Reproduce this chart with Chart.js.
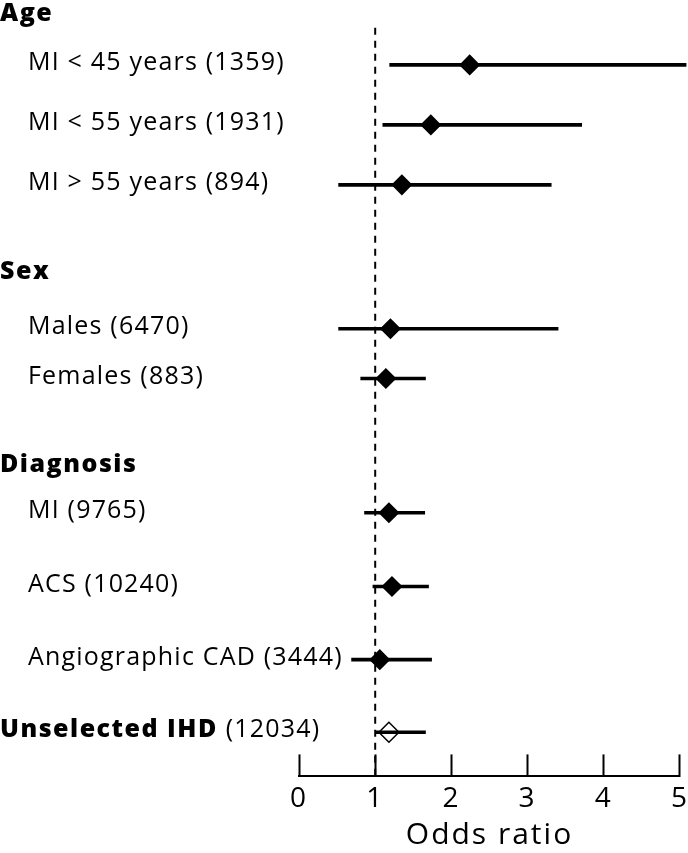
<!DOCTYPE html>
<html>
<head>
<meta charset="utf-8">
<script src="https://cdn.jsdelivr.net/npm/chart.js@4/dist/chart.umd.min.js"></script>
<style>
  html, body { margin: 0; padding: 0; background: #fff; }
  #wrap { width: 688px; height: 853px; }
</style>
</head>
<body>
<div id="wrap"><canvas id="forest"></canvas></div>
<script>
// group headings and where they sit (row units, top = 0)
const groups = ['Age', 'Sex', 'Diagnosis'];
const groupRows = [0, 4.3, 7.52];

// subgroups (n), last one is the pooled estimate
const labels = [
    'MI < 45 years (1359)',
    'MI < 55 years (1931)',
    'MI > 55 years (894)',
    'Males (6470)',
    'Females (883)',
    'MI (9765)',
    'ACS (10240)',
    'Angiographic CAD (3444)',
    'Unselected IHD (12034)'
];
const rows = [0.85, 1.85, 2.85, 5.25, 6.08, 8.32, 9.55, 10.77, 11.98];
const oddsRatio = [2.24, 1.73, 1.35, 1.20, 1.14, 1.18, 1.22, 1.06, 1.18];
const lower = [1.19, 1.10, 0.52, 0.52, 0.81, 0.86, 0.97, 0.69, 1.01];
const upper = [5.08, 3.71, 3.31, 3.40, 1.66, 1.65, 1.70, 1.74, 1.66];
const xTicks = [0, 1, 2, 3, 4, 5];

const FONT = '"Open Sans"';
const last = labels.length - 1;

// wider spacing for the axis text (the original face is a wide geometric sans)
const spacing = {
    id: 'spacing',
    beforeDraw(chart) { chart.ctx.letterSpacing = '2px'; }
};

const rowLabels = {
    id: 'rowLabels',
    afterDraw(chart) {
        const ctx = chart.ctx;
        const y = chart.scales.y;
        ctx.save();
        ctx.fillStyle = '#000';
        ctx.textBaseline = 'middle';
        ctx.textAlign = 'left';
        const bold = `800 25px ${FONT}`;
        const normal = `25px ${FONT}`;
        ctx.font = bold;
        ctx.letterSpacing = '1.5px';
        groups.forEach((g, i) => ctx.fillText(g, 0, y.getPixelForValue(groupRows[i])));
        labels.forEach((l, i) => {
            const py = y.getPixelForValue(rows[i]) - 2;
            if (i === last) {
                const cut = l.indexOf(' (');
                const head = l.slice(0, cut);
                ctx.font = bold;
                ctx.letterSpacing = '1.5px';
                ctx.fillText(head, 0, py);
                const w = ctx.measureText(head + ' ').width;
                ctx.font = normal;
                ctx.letterSpacing = '1.2px';
                ctx.fillText(l.slice(cut + 1), w, py);
            } else {
                ctx.font = normal;
                ctx.letterSpacing = '1.2px';
                ctx.fillText(l, 28, py);
            }
        });
        ctx.restore();
    }
};

new Chart(document.getElementById('forest'), {
    data: {
        datasets: [
            {
                type: 'line',
                data: [{x: 1, y: 0.23}, {x: 1, y: 12.717}],
                borderColor: '#000',
                borderWidth: 2,
                borderDash: [7, 6],
                pointRadius: 0
            },
            {
                type: 'bar',
                indexAxis: 'y',
                data: rows.map((r, i) => ({y: r, x: [lower[i], upper[i]]})),
                backgroundColor: '#000',
                barThickness: 3,
                clip: false
            },
            {
                type: 'scatter',
                data: rows.map((r, i) => ({x: oddsRatio[i], y: r})),
                pointStyle: 'rectRot',
                pointRadius: rows.map((r, i) => i === last ? 10 : 9.5),
                backgroundColor: rows.map((r, i) => i === last ? '#fff' : '#000'),
                borderColor: '#000',
                borderWidth: 1.5
            }
        ]
    },
    options: {
        responsive: true,
        maintainAspectRatio: false,
        animation: false,
        layout: { autoPadding: false, padding: { left: 299, right: 0, top: 0, bottom: 0 } },
        plugins: { legend: { display: false }, tooltip: { enabled: false } },
        scales: {
            y: {
                type: 'linear',
                display: false,
                offset: false,
                reverse: true,
                min: -0.233,
                max: 12.717
            },
            x: {
                type: 'linear',
                position: 'bottom',
                offset: false,
                min: 0,
                max: 5,
                afterBuildTicks: axis => { axis.ticks = xTicks.map(v => ({value: v})); },
                border: { display: true, color: '#000', width: 2 },
                grid: {
                    drawOnChartArea: false,
                    drawTicks: true,
                    tickLength: -22,
                    tickColor: '#000',
                    tickWidth: 2
                },
                ticks: {
                    color: '#000',
                    padding: 0,
                    font: { family: 'Open Sans', size: 28, lineHeight: 3.2 }
                },
                title: {
                    display: true,
                    text: 'Odds ratio',
                    color: '#000',
                    padding: { top: -27, bottom: 0 },
                    font: { family: 'Open Sans', size: 30, lineHeight: 1.2 }
                }
            }
        }
    },
    plugins: [spacing, rowLabels]
});
</script>
</body>
</html>
